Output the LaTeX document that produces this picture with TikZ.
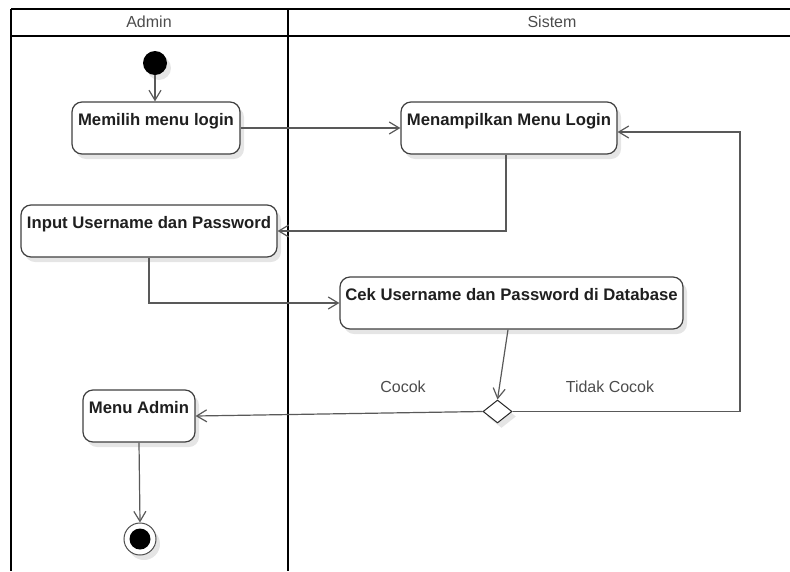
\documentclass[tikz,border=0pt]{standalone}
\usepackage{fontspec}
\setmainfont{Liberation Sans}
\usetikzlibrary{arrows.meta,shapes.geometric,shadows}
\begin{document}
\begin{tikzpicture}[x=1pt,y=-1pt,
  shadowed/.style={drop shadow={shadow xshift=4pt,shadow yshift=-5pt,fill=black,opacity=0.10}},
  act/.style={draw=black!75,line width=1.2pt,rounded corners=10pt,fill=white,inner sep=0pt,
    text height=23pt,text depth=29pt,font=\fontsize{16.7}{18}\selectfont\bfseries,text=black!88,shadowed},
  arr/.style={draw=black!65,line width=1.2pt,-{Straight Barb[length=10pt,width=12pt,line width=1.2pt]}},
  lane/.style={draw=black,line width=2pt},
  lbl/.style={font=\fontsize{16}{18}\selectfont,text=black!70,inner sep=0pt},
]
\useasboundingbox (0,0) rectangle (790,571);
% swimlanes
\draw[lane] (11,9) -- (790,9);
\draw[lane] (11,35.5) -- (790,35.5);
\draw[lane] (11,9) -- (11,571);
\draw[lane] (288,9) -- (288,571);
\node[lbl] (hA) at (149,22) {Admin};
\node[lbl] (hS) at (552,22) {Sistem};
% nodes
\node[circle,fill=black,minimum size=24pt,inner sep=0pt,shadowed] (s) at (155,63) {};
\node[act,minimum width=168pt] (a1) at (156,128) {Memilih menu login};
\node[act,minimum width=216pt] (a2) at (509,128) {Menampilkan Menu Login};
\node[act,minimum width=256pt] (a3) at (149,231) {Input Username dan Password};
\node[act,minimum width=343pt] (a4) at (511.5,303) {Cek Username dan Password di Database};
\node[diamond,draw=black!85,line width=1pt,fill=white,minimum width=29pt,minimum height=23pt,inner sep=0pt,shadowed] (d) at (497.5,411.5) {};
\node[act,minimum width=112pt] (a5) at (139,416) {Menu Admin};
\node[circle,draw=black!70,line width=1pt,fill=white,minimum size=32pt,inner sep=0pt,shadowed] (e) at (140,539) {};
\node[circle,fill=black,minimum size=21pt,inner sep=0pt] (ei) at (e) {};
\coordinate (c1) at (740,411.5);
% connectors
\draw[arr] (s) -- (s |- a1.north);
\draw[arr] (a1) -- (a2);
\draw[arr] ([xshift=-3pt]a2.south) |- (a3.east);
\draw[arr] (a3.south) |- (a4.west);
\draw[arr] ([xshift=-3.5pt]a4.south) -- (d.north);
\draw[arr] (d.east) -- (c1) |- ([yshift=-4pt]a2.east);
\draw[arr] (d.west) -- (a5.east);
\draw[arr] (a5.south) -- (e.north);
% labels
\node[lbl] (l1) at (403,387) {Cocok};
\node[lbl] (l2) at (610,387) {Tidak Cocok};
\end{tikzpicture}
\end{document}
